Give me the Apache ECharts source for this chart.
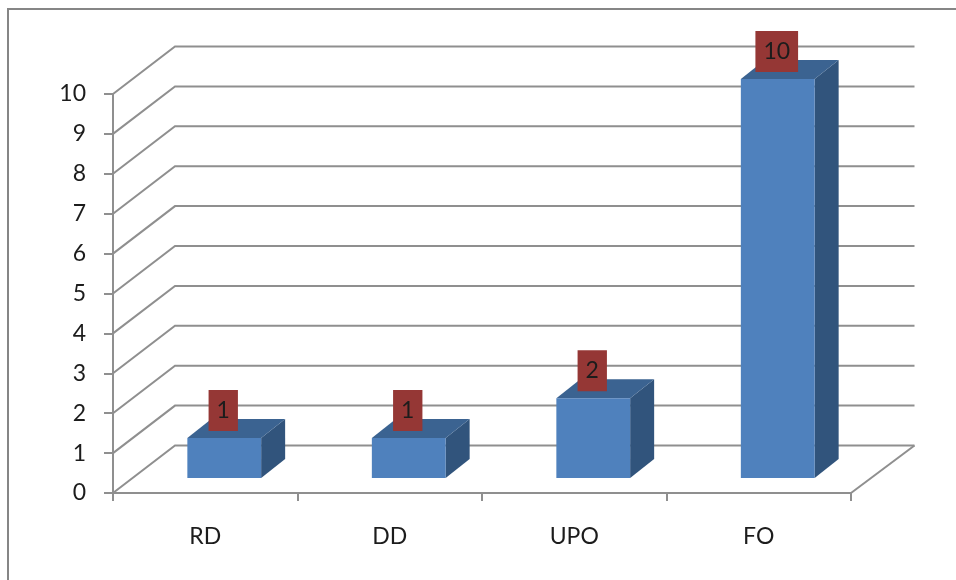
<!DOCTYPE html>
<html>
<head>
<meta charset="utf-8">
<style>html,body{margin:0;padding:0;background:#fff}#c{width:956px;height:580px}</style>
<script src="https://cdn.jsdelivr.net/npm/echarts@6/dist/echarts.min.js"></script>
</head>
<body>
<div id="c"></div>
<script>
const categories = ['RD', 'DD', 'UPO', 'FO'];
const values = [1, 1, 2, 10];
const tickValues = [0, 1, 2, 3, 4, 5, 6, 7, 8, 9, 10];

const FONT = 'Lato';
const LINE = '#8f8f8f';
const TEXT = '#1c1c1c';
// oblique projection of the chart's depth
const DEPTH_X = 62, DEPTH_Y = 47.5;   // floor depth
const BAR_DX = 24, BAR_DY = 19;       // bar depth
const BAR_SHIFT_X = 19, BAR_SHIFT_Y = 15; // bar front face position on the floor
const BAR_RATIO = 0.4;

function renderWall(params, api) {
  const v = api.value(0);
  const cs = params.coordSys;
  const py = api.coord([0, v])[1];
  const x0 = cs.x, x1 = cs.x + cs.width;
  const style = { stroke: LINE, lineWidth: 2, fill: null };
  const children = [{
    type: 'polyline',
    shape: { points: [[x0, py], [x0 + DEPTH_X, py - DEPTH_Y], [x1 + DEPTH_X + 1.5, py - DEPTH_Y]] },
    style
  }];
  if (v === 0) {
    children.push({
      type: 'line',
      shape: { x1: x1, y1: py, x2: x1 + DEPTH_X + 1.5, y2: py - DEPTH_Y },
      style
    });
  }
  return { type: 'group', children };
}

function renderBar(params, api) {
  const i = api.value(0), v = api.value(1);
  const base = api.coord([i, 0]);
  const top = api.coord([i, v]);
  const band = api.size([1, 0])[0];
  const w = band * BAR_RATIO;
  const l = base[0] + BAR_SHIFT_X - w / 2, r = l + w;
  const yb = base[1] - BAR_SHIFT_Y, yt = top[1] - BAR_SHIFT_Y;
  const dx = BAR_DX, dy = BAR_DY;
  return {
    type: 'group',
    children: [
      { type: 'polygon', shape: { points: [[r, yb], [r + dx, yb - dy], [r + dx, yt - dy], [r, yt]] },
        style: { fill: '#31547C' } },
      { type: 'polygon', shape: { points: [[l, yt], [r, yt], [r + dx, yt - dy], [l + dx, yt - dy]] },
        style: { fill: '#3B6391' } },
      { type: 'rect', shape: { x: l, y: yt, width: w, height: yb - yt },
        style: { fill: '#4F81BD' } },
      { type: 'text', x: (l + r) / 2 - 1, y: yt - 27.5,
        style: { text: String(v), font: '23px ' + FONT, fill: TEXT, align: 'center',
                 verticalAlign: 'middle', backgroundColor: '#953735',
                 padding: [9, 8, 9, 8], lineHeight: 23 } }
    ]
  };
}

const chart = echarts.init(document.getElementById('c'), null, { renderer: 'canvas' });
chart.setOption({
  animation: false,
  backgroundColor: '#fff',
  textStyle: { fontFamily: FONT },
  grid: { left: 113, right: 105, top: 94, bottom: 87, containLabel: false },
  graphic: [{
    type: 'polyline',
    silent: true,
    shape: { points: [[8, 580], [8, 9], [956, 9]] },
    style: { stroke: '#868686', lineWidth: 2, fill: null }
  }],
  xAxis: {
    type: 'category',
    data: categories,
    boundaryGap: true,
    axisLine: { show: true, lineStyle: { color: LINE, width: 2 } },
    axisTick: { show: true, alignWithLabel: false, length: 8, lineStyle: { color: LINE, width: 2 } },
    axisLabel: { color: TEXT, fontSize: 23, fontFamily: FONT, margin: 32 },
    splitLine: { show: false }
  },
  yAxis: {
    type: 'value',
    min: 0, max: 10, interval: 1,
    axisLine: { show: true, lineStyle: { color: LINE, width: 2 } },
    axisTick: { show: true, length: 9, lineStyle: { color: LINE, width: 2 } },
    axisLabel: { color: TEXT, fontSize: 23, fontFamily: FONT, margin: 27 },
    splitLine: { show: false }
  },
  series: [
    { type: 'custom', name: 'walls', silent: true, clip: false, z: 1,
      renderItem: renderWall, data: tickValues.map(v => [v]),
      encode: { y: 0 } },
    { type: 'custom', name: 'bars', silent: true, clip: false, z: 2,
      renderItem: renderBar, data: values.map((v, i) => [i, v]),
      encode: { x: 0, y: 1 } }
  ]
});
</script>
</body>
</html>
